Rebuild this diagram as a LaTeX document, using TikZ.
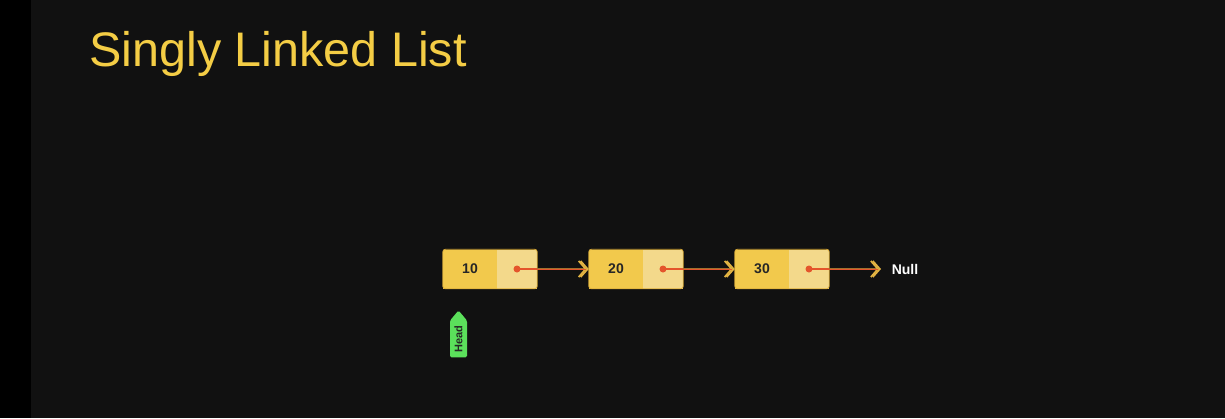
\documentclass[tikz,border=0pt]{standalone}
\usepackage{fontspec}
\setmainfont{Liberation Sans}
\usetikzlibrary{arrows.meta,shapes.symbols}

\definecolor{slidebg}{HTML}{111111}
\definecolor{titleyellow}{HTML}{F4CD45}
\definecolor{datafill}{HTML}{F2C94C}
\definecolor{ptrfill}{HTML}{F3D98B}
\definecolor{boxline}{HTML}{DDAE3A}
\definecolor{linkred}{HTML}{E4552C}
\definecolor{linkgold}{HTML}{A0702E}
\definecolor{tipgold}{HTML}{E2B342}
\definecolor{headgreen}{HTML}{5BE05B}

\tikzset{
  datapart/.style={rectangle, fill=datafill, minimum width=54pt, minimum height=39pt,
    inner sep=0pt, font=\fontsize{14}{14}\selectfont\bfseries, text=black!85},
  ptrpart/.style={rectangle, fill=ptrfill, minimum width=40pt, minimum height=39pt,
    inner sep=0pt},
  boxframe/.style={draw=boxline, line width=0.8pt, rounded corners=2.5pt},
  link/.style={preaction={draw=linkgold, line width=2.4pt, shorten >=2pt},
    draw=linkred, line width=0.9pt,
    -{Straight Barb[length=7pt, width=16pt, line width=1.7pt, color=tipgold]}},
  dot/.style={circle, fill=linkred, inner sep=0pt, minimum size=7pt}
}

\begin{document}
\begin{tikzpicture}[x=1pt, y=-1pt]
  % background
  \fill[slidebg] (0,0) rectangle (1225,418);
  \fill[black] (0,0) rectangle (31,418);
  \useasboundingbox (0,0) rectangle (1225,418);

  \node[anchor=base west, text=titleyellow, font=\fontsize{48.5}{48.5}\selectfont, inner sep=0pt]
    (title) at (89,66) {Singly Linked List};

  % the list nodes
  \node[datapart] (n1) at (470,269) {10};
  \node[ptrpart]  (p1) at (517,269) {};
  \node[datapart] (n2) at (616,269) {20};
  \node[ptrpart]  (p2) at (663,269) {};
  \node[datapart] (n3) at (762,269) {30};
  \node[ptrpart]  (p3) at (809,269) {};
  \draw[boxframe] (n1.north west) rectangle (p1.south east);
  \draw[boxframe] (n2.north west) rectangle (p2.south east);
  \draw[boxframe] (n3.north west) rectangle (p3.south east);

  \node[text=white, font=\fontsize{14}{14}\selectfont\bfseries] (null) at (905,269) {Null};
  \coordinate (nullend) at (881,269);

  \draw[link] (p1.east) -- (n2.west);
  \draw[link] (p2.east) -- (n3.west);
  \draw[link] (p3.east) -- (nullend);
  \draw[linkred, line width=1.4pt] (p1.center) -- (p1.east);
  \draw[linkred, line width=1.4pt] (p2.center) -- (p2.east);
  \draw[linkred, line width=1.4pt] (p3.center) -- (p3.east);

  \node[dot] (d1) at (p1.center) {};
  \node[dot] (d2) at (p2.center) {};
  \node[dot] (d3) at (p3.center) {};

  % head pointer
  \node[shape=signal, signal to=east, signal pointer angle=80, rotate=90,
        fill=headgreen, rounded corners=1.5pt, minimum width=47pt, minimum height=17pt,
        inner xsep=2pt, inner ysep=1pt, font=\fontsize{11}{11}\selectfont\bfseries, text=black!85]
    (head) at (458.5,339) {Head};
\end{tikzpicture}
\end{document}
